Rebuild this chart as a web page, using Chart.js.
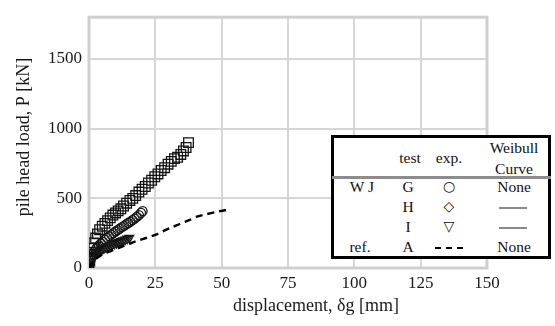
<!DOCTYPE html>
<html>
<head>
<meta charset="utf-8">
<script src="https://cdn.jsdelivr.net/npm/chart.js@4/dist/chart.umd.min.js"></script>
<style>
  html, body { margin: 0; padding: 0; background: #fff; }
  #wrap { position: relative; width: 555px; height: 326px; }
  canvas { position: absolute; left: 0; top: 0; }
  .tbl { position: absolute; left: 331px; top: 135px; width: 220px; height: 124px;
         box-sizing: border-box; border: 3px solid #000; background: #fff; }
  .t { position: absolute; transform: translate(-50%, -50%); white-space: nowrap;
       font-family: "Liberation Serif", "Times New Roman", serif; font-size: 15.5px; color: #111; line-height: 1; }
  .sym { font-family: "DejaVu Sans", sans-serif; font-size: 14px; }
  .hl { position: absolute; height: 0; }
</style>
</head>
<body>
<div id="wrap">
  <canvas id="c" width="555" height="326"></canvas>
</div>
<script>
// ---- data ----
const xTicks = [0, 25, 50, 75, 100, 125, 150];
const yTicks = [0, 500, 1000, 1500];

// Test G (circles)
const gX = [0, 0.3, 0.6, 1, 1.5, 2, 2.6, 3.2, 3.8, 4.5, 5.2, 6, 6.8, 7.6, 8.4, 9.2, 10, 10.8, 11.6, 12.4, 13.2, 14, 14.8, 15.6, 16.4, 17.2, 18, 18.8, 19.6, 20.2];
const gP = [0, 30, 55, 80, 100, 118, 135, 150, 163, 176, 190, 203, 216, 228, 240, 250, 262, 272, 283, 293, 303, 313, 323, 333, 343, 355, 367, 380, 395, 408];

// Test H (diamonds)
const hX = [0, 0.3, 0.7, 1.2, 1.8, 2.5, 3.2, 4.0, 5.0, 6.0, 7.0, 8.0, 9.0, 10.0, 11.0, 12.0, 13.0, 14.2, 15.4, 16.5, 17.6, 18.8, 20.0, 21.2, 22.4, 23.6, 24.8, 26.0, 27.2, 28.5, 29.8, 31.0, 32.2, 33.4, 34.6, 35.6, 36.6, 37.5];
const hP = [0, 50, 95, 140, 180, 215, 245, 275, 300, 320, 340, 360, 380, 395, 410, 425, 445, 465, 485, 500, 520, 545, 565, 585, 610, 630, 655, 675, 700, 720, 745, 765, 785, 795, 815, 840, 865, 900];

// Test I (triangles)
const iX = [0, 0.3, 0.6, 1, 1.5, 2, 2.6, 3.2, 4, 4.8, 5.6, 6.4, 7.2, 8, 8.8, 9.6, 10.4, 11.2, 12, 12.8, 13.6, 14.4, 15.2];
const iP = [0, 25, 45, 65, 80, 92, 103, 113, 123, 132, 140, 148, 155, 162, 168, 174, 180, 186, 192, 198, 204, 210, 216];

// Reference A (dashed)
const aX = [0, 1, 2, 4, 6, 8, 10, 12, 15, 18, 22, 26, 28, 31, 34, 38, 41, 44, 48, 52.5];
const aP = [0, 30, 55, 85, 105, 120, 135, 150, 172, 195, 218, 245, 265, 290, 314, 345, 370, 385, 402, 420];

const toPts = (xs, ys) => xs.map((x, k) => ({ x: x, y: ys[k] }));

const FONT = "'Liberation Serif', 'Times New Roman', serif";
const INK = '#1a1a1a';

const frame = {
  id: 'frame',
  beforeDatasetsDraw(chart) {
    const a = chart.chartArea, ctx = chart.ctx;
    ctx.save();
    ctx.strokeStyle = '#cfcfcf';
    ctx.lineWidth = 3;
    ctx.strokeRect(a.left, a.top, a.right - a.left, a.bottom - a.top);
    ctx.restore();
  },
  afterDraw(chart) {
    const ctx = chart.ctx;
    ctx.save();
    ctx.fillStyle = INK;
    ctx.font = "18px " + FONT;
    ctx.textAlign = 'center';
    ctx.textBaseline = 'middle';
    ctx.fillText('displacement, \u03b4g [mm]', 316, 306);
    ctx.translate(24, 137);
    ctx.rotate(-Math.PI / 2);
    ctx.fillText('pile head load, P [kN]', 0, 0);
    ctx.restore();
  }
};

const mk = (data, style, radius, rot) => ({
  data: data, showLine: false, pointStyle: style, pointRadius: radius,
  pointRotation: rot || 0, pointBorderColor: '#151515', pointBackgroundColor: 'rgba(0,0,0,0)',
  pointBorderWidth: 1.3, borderColor: '#151515', backgroundColor: 'rgba(0,0,0,0)'
});

new Chart(document.getElementById('c'), {
  type: 'scatter',
  data: {
    datasets: [
      { data: toPts(aX, aP), showLine: true, pointRadius: 0, borderColor: '#000', borderWidth: 2.4,
        borderDash: [7, 5], tension: 0.3, fill: false },
      mk(toPts(gX, gP), 'circle', 4.5),
      mk(toPts(hX, hP), 'rect', 6.8),
      mk(toPts(iX, iP), 'triangle', 5, 180)
    ]
  },
  options: {
    responsive: false,
    animation: false,
    layout: { padding: { top: 10, right: 68, left: 0, bottom: 0 } },
    plugins: { legend: { display: false }, tooltip: { enabled: false } },
    scales: {
      x: {
        type: 'linear', min: 0, max: 150,
        afterFit: s => { s.height = 58; },
        afterBuildTicks: s => { s.ticks = xTicks.map(v => ({ value: v })); },
        grid: { color: '#d6d6d6', lineWidth: 2, drawTicks: false },
        border: { display: false },
        ticks: { padding: 5, color: INK, font: { family: FONT, size: 17 }, callback: v => String(v) }
      },
      y: {
        type: 'linear', min: 0, max: 1800,
        afterFit: s => { s.width = 89; },
        afterBuildTicks: s => { s.ticks = yTicks.map(v => ({ value: v })); },
        grid: { color: '#d6d6d6', lineWidth: 2, drawTicks: false },
        border: { display: false },
        ticks: { padding: 7, color: INK, font: { family: FONT, size: 17 }, callback: v => String(v) }
      }
    }
  },
  plugins: [frame]
});

// ---- legend table (real text) ----
const wrap = document.getElementById('wrap');
const tbl = document.createElement('div');
tbl.className = 'tbl';
wrap.appendChild(tbl);

const cells = [
  ['Weibull', 514, 148, ''], ['test', 410, 158, ''], ['exp.', 449, 158, ''], ['Curve', 514, 169, ''],
  ['W J', 362, 187, ''], ['G', 408, 187, ''], ['\u25cb', 449, 186, 'sym'], ['None', 514, 187, ''],
  ['H', 408, 207, ''], ['\u25c7', 449, 206, 'sym'],
  ['I', 408, 227, ''], ['\u25bd', 449, 226, 'sym'],
  ['ref.', 360, 247, ''], ['A', 408, 247, ''], ['None', 514, 247, '']
];
cells.forEach(c => {
  const d = document.createElement('div');
  d.className = 't ' + c[3];
  d.textContent = c[0];
  d.style.left = c[1] + 'px';
  d.style.top = c[2] + 'px';
  wrap.appendChild(d);
});

const lines = [
  [332, 176, 219, '3px solid #8c8c8c'],
  [499, 207, 28, '2px solid #8a8a8a'],
  [499, 227, 28, '2px solid #8a8a8a'],
  [435, 247, 28, '2px dashed #000']
];
lines.forEach(l => {
  const d = document.createElement('div');
  d.className = 'hl';
  d.style.left = l[0] + 'px';
  d.style.top = l[1] + 'px';
  d.style.width = l[2] + 'px';
  d.style.borderTop = l[3];
  wrap.appendChild(d);
});
</script>
</body>
</html>
